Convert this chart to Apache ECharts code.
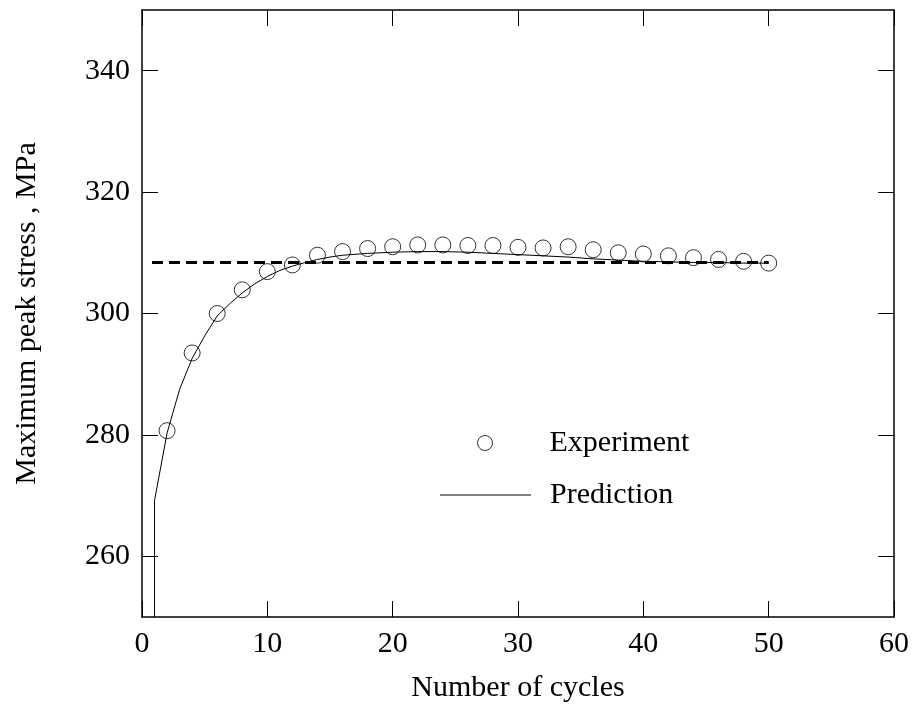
<!DOCTYPE html>
<html>
<head>
<meta charset="utf-8">
<script src="https://cdn.jsdelivr.net/npm/echarts@6/dist/echarts.min.js"></script>
<style>
html,body{margin:0;padding:0;background:#fff;}
#chart{width:915px;height:714px;}
</style>
</head>
<body>
<div id="chart"></div>
<script>
// Experiment data (cycle, peak stress MPa)
var expCycles = [2,4,6,8,10,12,14,16,18,20,22,24,26,28,30,32,34,36,38,40,42,44,46,48,50];
var expStress = [280.7,293.5,300.0,303.9,306.9,308.0,309.6,310.2,310.7,311.0,311.3,311.3,311.2,311.2,310.9,310.8,311.0,310.5,310.0,309.8,309.5,309.2,308.9,308.6,308.3];

// Prediction curve
var predCycles = [1,1,2,3,4,5,6,7,8,9,10,11,12,13,14,15,16,18,20,22,24,26,28,30,32,34,36,38,40,42,44,46,48,50];
var predStress = [250,269.2,280.3,287.5,292.6,296.3,299.6,301.6,303.4,304.9,306.1,307.1,307.8,308.4,308.9,309.3,309.6,309.9,310.1,310.2,310.2,310.1,309.9,309.7,309.5,309.3,309.0,308.8,308.6,308.5,308.4,308.4,308.3,308.3];

// Saturated (dashed) reference level
var satCycles = [0.8, 50];
var satStress = [308.4, 308.4];

var xTicks = [0,10,20,30,40,50,60];
var yTicks = [260,280,300,320,340];

function pairs(xs, ys){ return xs.map(function(x,i){ return [x, ys[i]]; }); }

var FONT = 'Liberation Serif';
var FS = 30;
var chart = echarts.init(document.getElementById('chart'), null, {renderer:'canvas'});
function axLine(){ return {show:true, onZero:false, lineStyle:{color:'#000', width:1.5}}; }
function tick(vals){ return {show:true, inside:true, length:16, customValues:vals, lineStyle:{color:'#000', width:1}}; }
var opt = {
  backgroundColor:'#fff',
  animation:false,
  grid:{left:142, right:21, top:10, bottom:97, containLabel:false},
  xAxis:[{
    type:'value', min:0, max:60, interval:10,
    name:'Number of cycles', nameLocation:'middle', nameGap:56,
    nameTextStyle:{fontFamily:FONT, fontSize:FS, color:'#000'},
    axisLine:axLine(),
    axisTick:tick(xTicks),
    axisLabel:{fontFamily:FONT, fontSize:FS, color:'#000', margin:12, customValues:xTicks},
    splitLine:{show:false}
  },{
    type:'value', position:'top', min:0, max:60, interval:10,
    axisLine:axLine(),
    axisTick:tick(xTicks),
    axisLabel:{show:false}, splitLine:{show:false}
  }],
  yAxis:[{
    type:'value', min:250, max:350, interval:10,
    name:'Maximum peak stress , MPa', nameLocation:'middle', nameGap:100,
    nameTextStyle:{fontFamily:FONT, fontSize:FS, color:'#000'},
    axisLine:axLine(),
    axisTick:tick(yTicks),
    axisLabel:{fontFamily:FONT, fontSize:FS, color:'#000', margin:12, customValues:yTicks},
    splitLine:{show:false}
  },{
    type:'value', position:'right', min:250, max:350, interval:10,
    axisLine:axLine(),
    axisTick:tick(yTicks),
    axisLabel:{show:false}, splitLine:{show:false}
  }],
  legend:[{
    data:['Experiment'], left:472, top:423, orient:'vertical',
    itemWidth:15, itemHeight:15,
    itemStyle:{borderWidth:1, borderColor:'#000', color:'rgba(255,255,255,0)'},
    textStyle:{fontFamily:FONT, fontSize:FS, color:'#000', padding:[0,0,0,52]}
  },{
    data:[{name:'Prediction', icon:'rect'}], left:435, top:475, orient:'vertical',
    itemWidth:91, itemHeight:1.2,
    textStyle:{fontFamily:FONT, fontSize:FS, color:'#000', padding:[0,0,0,14]}
  }],
  series:[{
    name:'Prediction', type:'line', data:pairs(predCycles, predStress),
    symbol:'none', smooth:false, clip:true,
    lineStyle:{color:'#000', width:1}, itemStyle:{color:'#000'}
  },{
    name:'Saturation', type:'line', data:pairs(satCycles, satStress),
    symbol:'none', lineStyle:{color:'#000', width:3, type:[11,6]}
  },{
    name:'Experiment', type:'scatter', data:pairs(expCycles, expStress),
    symbol:'circle', symbolSize:16,
    itemStyle:{color:'rgba(255,255,255,0)', borderColor:'#000', borderWidth:1}
  }]
};
chart.setOption(opt);
</script>
</body>
</html>
